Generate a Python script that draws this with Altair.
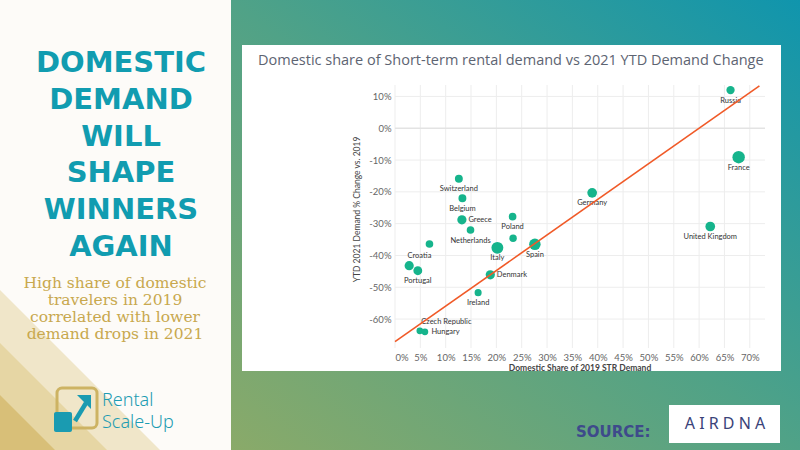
import altair as alt
import pandas as pd

# ---------------- data ----------------
countries = ["Russia", "France", "Germany", "United Kingdom", "Switzerland", "Belgium",
             "Greece", "Poland", "Netherlands", "Unlabelled A", "Croatia", "Italy", "Spain",
             "Unlabelled B", "Portugal", "Denmark", "Ireland", "Czech Republic", "Hungary"]
domestic_share = [66.2, 67.8, 38.9, 62.2, 12.6, 13.3, 13.2, 23.2, 14.9, 23.3, 6.8, 20.2, 27.6,
                  2.8, 4.5, 18.8, 16.4, 4.9, 5.9]
demand_change = [12.0, -9.1, -20.3, -30.9, -15.9, -22.0, -28.8, -27.8, -32.0, -34.6, -36.4,
                 -37.6, -36.5, -43.2, -44.8, -46.1, -51.7, -63.7, -64.0]
bubble_weight = [22, 49, 30, 30, 20, 20, 27, 18.5, 18.5, 17.6, 18.5, 45, 42, 27, 25, 27, 16, 14.4, 14.4]
label_place = ["below", "below", "below", "below", "below", "below", "right", "below", "below",
               "none", "below-left", "below", "below", "none", "below", "right", "below",
               "above-right", "right"]

trend_x = [0.0, 71.9]
trend_y = [-67.1, 13.3]

x_ticks = [0, 5, 10, 15, 20, 25, 30, 35, 40, 45, 50, 55, 60, 65, 70]
y_ticks = [-60, -50, -40, -30, -20, -10, 0, 10]

title_lines = ["DOMESTIC", "DEMAND", "WILL", "SHAPE", "WINNERS", "AGAIN"]
subtitle_lines = ["High share of domestic", "travelers in 2019",
                  "correlated with lower", "demand drops in 2021"]
chart_title = "Domestic share of Short-term rental demand vs 2021 YTD Demand Change"
x_title = "Domestic Share of 2019 STR Demand"
y_title = "YTD 2021 Demand % Change vs. 2019"

df = pd.DataFrame({"country": countries, "share": domestic_share, "change": demand_change,
                   "weight": bubble_weight, "place": label_place})
trend = pd.DataFrame({"share": trend_x, "change": trend_y})
gx = pd.DataFrame({"share": x_ticks})
gy = pd.DataFrame({"change": [t for t in y_ticks if t != 0]})
g0 = pd.DataFrame({"change": [0]})
one = pd.DataFrame({"k": [0]})

# ---------------- layout helpers (plot area origin at 395,85) ----------------
OX, OY = 395, 85
def px(x):
    return x - OX
def py(y):
    return y - OY

xs = alt.Scale(domain=[0, 73], nice=False, zero=False)
ys = alt.Scale(domain=[-69.1, 13.6], nice=False, zero=False)

axis_common = dict(grid=False, domain=False, ticks=False, labelFont="Lato", labelFontSize=9.5,
                   labelColor="#666666", labelPadding=4, zindex=1,
                   labelExpr="datum.value + '%'")
ax_x = alt.Axis(values=x_ticks, title=None, labelFlush=True, **axis_common)
ax_y = alt.Axis(values=y_ticks, title=y_title, titleFont="Lato", titleFontSize=8.5,
                titleFontWeight="normal", titleColor="#444444", titlePadding=7, titleY=124,
                **axis_common)

X = alt.X("share:Q", scale=xs, axis=ax_x)
Y = alt.Y("change:Q", scale=ys, axis=ax_y)

POINT = "#16b48c"
TEAL = "#119cb0"
GOLD = "#c8a84e"

b = alt.Chart(one)

def box(x1, y1, x2, y2, **kw):
    return b.mark_rect(**kw).encode(x=alt.value(px(x1)), x2=alt.value(px(x2)),
                                    y=alt.value(py(y1)), y2=alt.value(py(y2)))

def txt(x, y, text, **kw):
    return b.mark_text(text=text, **kw).encode(x=alt.value(px(x)), y=alt.value(py(y)))

def tri(side, color):
    return b.mark_point(shape="M-1,-1L-1,1L1,1Z", filled=True, opacity=1, size=side * side,
                        color=color, strokeWidth=0).encode(
        x=alt.value(px(side / 2)), y=alt.value(py(450 - side / 2)))

grad = alt.LinearGradient(gradient="linear",
                          stops=[alt.GradientStop(color="#8aaa69", offset=0),
                                 alt.GradientStop(color="#50a287", offset=0.5),
                                 alt.GradientStop(color="#1095ad", offset=1)],
                          x1=0, y1=1, x2=1, y2=0)

bg = box(231, 0, 800, 450, color=grad)
bands = [tri(160, "#f0e6c9"), tri(107, "#e6d6a4"), tri(55, "#d8bf78")]

big_title = txt(121, 72, title_lines, font="DejaVu Sans", fontWeight="bold", fontSize=29,
                color=TEAL, align="center", baseline="alphabetic", lineHeight=36.8)
subtitle = txt(115, 288, subtitle_lines, font="DejaVu Serif", fontSize=15.5, color=GOLD,
               align="center", baseline="alphabetic", lineHeight=17)

logo_outline = box(57, 388, 97, 428, fillOpacity=0, stroke="#cdb363", strokeWidth=3, cornerRadius=5)
logo_square = box(54, 412, 72, 432, color="#1a9bb1", cornerRadius=2)
logo_shaft = b.mark_rule(color="#1a9bb1", strokeWidth=4.5).encode(
    x=alt.value(px(75)), x2=alt.value(px(86)), y=alt.value(py(421)), y2=alt.value(py(403)))
logo_head = b.mark_point(shape="M-1,-1L1,-1L1,1Z", filled=True, opacity=1, size=196,
                         color="#1a9bb1", strokeWidth=0).encode(
    x=alt.value(px(84)), y=alt.value(py(402)))
logo_text1 = txt(102, 405.5, "Rental", font="Noto Sans", fontWeight=300, fontSize=18,
                 color="#1e9cb2", align="left", baseline="alphabetic")
logo_text2 = txt(102, 428, "Scale-Up", font="Noto Sans", fontWeight=300, fontSize=18,
                 color="#1e9cb2", align="left", baseline="alphabetic")

card = box(242, 45, 781, 371, color="white")
card_title = txt(258, 61, chart_title, font="Open Sans", fontSize=14.5, color="#5d6472",
                 align="left", baseline="middle")

grid_x = alt.Chart(gx).mark_rule(color="#ededed", strokeWidth=1).encode(x=X)
grid_y = alt.Chart(gy).mark_rule(color="#ededed", strokeWidth=1).encode(y=Y)
zero_y = alt.Chart(g0).mark_rule(color="#e3e3e3", strokeWidth=1.5).encode(y=Y)

points = alt.Chart(df).mark_circle(opacity=1, color=POINT).encode(
    x=X, y=Y,
    size=alt.Size("weight:Q", scale=alt.Scale(domain=[0, 50], range=[0, 157]), legend=None),
)

placements = {
    "below": dict(align="center", baseline="middle", dy=10.5),
    "right": dict(align="left", baseline="middle", dx=6.5),
    "above-right": dict(align="left", baseline="middle", dx=1.5, dy=-8.7),
    "below-left": dict(align="center", baseline="middle", dx=-10, dy=11.7),
}
label_layers = []
for place, kw in placements.items():
    label_layers.append(
        alt.Chart(df).transform_filter(alt.datum.place == place).mark_text(
            font="Lato", fontSize=7.5, color="#333333", **kw).encode(
            x=X, y=Y, text="country:N"))

trend_line = alt.Chart(trend).mark_line(color="#f05a28", strokeWidth=1.6).encode(x=X, y=Y)

x_axis_title = txt(580, 367.5, x_title, font="Lato", fontSize=8.5, fontWeight="bold",
                   color="#444444", align="center", baseline="middle")

source = txt(576, 432, "SOURCE:", font="DejaVu Sans", fontWeight="bold", fontSize=15,
             color="#3e4a8b", align="left", baseline="middle")
airdna_box = box(669, 405, 780, 443, color="white")
airdna = txt(725, 424, "A I R D N A", font="Noto Sans", fontSize=16, color="#3a4379",
             align="center", baseline="middle")

chart = alt.layer(
    bg, *bands, big_title, subtitle, logo_outline, logo_square, logo_shaft, logo_head,
    logo_text1, logo_text2, card, card_title, grid_x, grid_y, zero_y, points, *label_layers,
    trend_line, x_axis_title, source, airdna_box, airdna
).properties(
    width=370, height=263,
    padding={"left": 395, "top": 85, "right": 35, "bottom": 102},
    autosize="none",
    background="#fdfbf8",
).configure_view(stroke=None)

chart.save("out.html", embed_options={"renderer": "svg", "actions": False})
